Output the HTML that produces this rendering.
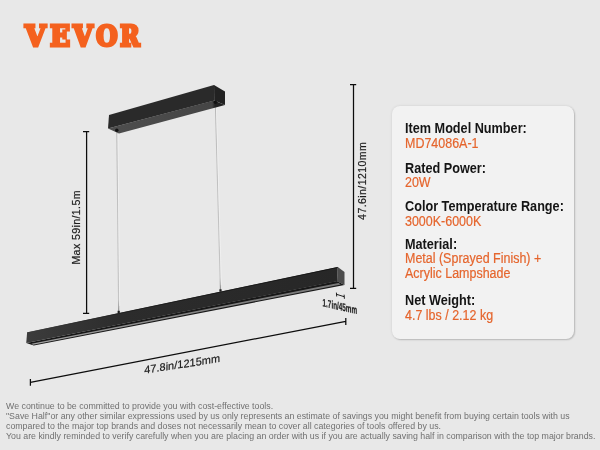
<!DOCTYPE html>
<html><head><meta charset="utf-8">
<style>
html,body{margin:0;padding:0;}
body{width:600px;height:450px;background:#e8e8e8;position:relative;overflow:hidden;font-family:"Liberation Sans",sans-serif;}
#logo{position:absolute;left:0;top:0;font-family:"DejaVu Serif",serif;font-weight:bold;font-size:28.5px;line-height:36px;color:#f4611e;-webkit-text-stroke:3.0px #f4611e;white-space:nowrap;}
#logo span{position:absolute;top:18.2px;transform-origin:0 0;display:block;}
#panel{position:absolute;left:392px;top:106px;width:182px;height:232.5px;border-radius:8px;background:#f2f2f2;box-shadow:0 0 3px rgba(0,0,0,0.10), 1px 1px 1.5px rgba(0,0,0,0.17);}
.t{position:absolute;left:405px;white-space:nowrap;line-height:16px;transform-origin:0 0;}
.h{font-weight:bold;color:#151515;font-size:14px;transform:scaleX(0.905);}
.v{color:#e5652d;font-size:14px;transform:scaleX(0.891);-webkit-text-stroke:0.2px #e5652d;}
.f{position:absolute;left:6px;white-space:nowrap;font-size:8.81px;line-height:10px;color:#707070;transform-origin:0 0;}
svg{position:absolute;left:0;top:0;}
svg text{font-family:"Liberation Sans",sans-serif;fill:#1c1c1c;stroke:#1c1c1c;stroke-width:0.2px;}
</style></head><body>
<div id="logo"><span style="left:25.4px;transform:scaleX(0.942)">V</span><span style="left:49.7px;transform:scaleX(0.925)">E</span><span style="left:73.0px;transform:scaleX(0.899)">V</span><span style="left:96.3px;transform:scaleX(0.870)">O</span><span style="left:120.0px;transform:scaleX(0.834)">R</span></div>
<svg width="600" height="450" viewBox="0 0 600 450">
  <!-- wires -->
  <linearGradient id="w1" x1="0" y1="132" x2="0" y2="312" gradientUnits="userSpaceOnUse"><stop offset="0" stop-color="#b6b6b6"/><stop offset="0.3" stop-color="#c0c0c0"/><stop offset="0.93" stop-color="#c4c4c4"/><stop offset="1" stop-color="#8a8a8a"/></linearGradient>
  <linearGradient id="w2" x1="0" y1="103" x2="0" y2="291" gradientUnits="userSpaceOnUse"><stop offset="0" stop-color="#b6b6b6"/><stop offset="0.3" stop-color="#c0c0c0"/><stop offset="0.93" stop-color="#c4c4c4"/><stop offset="1" stop-color="#8a8a8a"/></linearGradient>
  <line x1="116.9" y1="132" x2="118.7" y2="312" stroke="url(#w1)" stroke-width="1.2"/><line x1="117.9" y1="134" x2="119.7" y2="306" stroke="#f1f1f1" stroke-width="0.8"/>
  <line x1="215.4" y1="103" x2="220.5" y2="291" stroke="url(#w2)" stroke-width="1.2"/><line x1="216.4" y1="108" x2="221.4" y2="285" stroke="#f1f1f1" stroke-width="0.8"/>
  <!-- ceiling box -->
  <linearGradient id="bg2" x1="108" y1="0" x2="225" y2="0" gradientUnits="userSpaceOnUse"><stop offset="0" stop-color="#4e4e4e"/><stop offset="0.89" stop-color="#454545"/><stop offset="0.915" stop-color="#222"/><stop offset="1" stop-color="#222"/></linearGradient>
  <polygon points="108,128.5 214,100.5 225,104.9 119,133.6" fill="url(#bg2)"/>
  <polygon points="109,115 214,85 214.5,100.5 108,128.5" fill="#2a2a2a"/>
  <polygon points="214,85 225,91.5 225,104.9 214.3,100.6" fill="#222"/>
  <circle cx="116.8" cy="130.3" r="1.7" fill="#111"/>
  <circle cx="215.4" cy="102.3" r="1.7" fill="#111"/>
  <!-- lamp bar -->
  <defs><linearGradient id="fg" x1="27" y1="0" x2="338" y2="0" gradientUnits="userSpaceOnUse"><stop offset="0" stop-color="#3c3c3c"/><stop offset="0.3" stop-color="#2c2c2c"/><stop offset="1" stop-color="#272727"/></linearGradient></defs>
  <polygon points="26.25,342.9 337,280.9 344.5,284.9 33.75,345.6" fill="#181818"/>
  <linearGradient id="sg" x1="30" y1="0" x2="340" y2="0" gradientUnits="userSpaceOnUse"><stop offset="0" stop-color="#a2a2a2"/><stop offset="0.5" stop-color="#858585"/><stop offset="1" stop-color="#787878"/></linearGradient>
  <polygon points="31.5,343.75 338.5,282.9 340.8,284.4 33,344.85" fill="url(#sg)"/>
  <polygon points="27.1,332.5 337.8,267.1 337.2,281.2 26.25,342.9" fill="url(#fg)"/>
  <linearGradient id="tg" x1="27" y1="0" x2="338" y2="0" gradientUnits="userSpaceOnUse"><stop offset="0" stop-color="#3a3a3a"/><stop offset="0.35" stop-color="#1a1a1a"/><stop offset="1" stop-color="#111"/></linearGradient>
  <line x1="27.1" y1="332.8" x2="337.8" y2="267.4" stroke="url(#tg)" stroke-width="0.9"/>
  <polygon points="337.8,267.1 344.5,272 344.5,284.9 337,281.2" fill="#4c4c4c"/>
  <rect x="117.6" y="310.8" width="2.2" height="2.4" fill="#1c1c1c"/>
  <rect x="219.4" y="289.3" width="2.2" height="2.4" fill="#1c1c1c"/>
  <!-- dims -->
  <g stroke="#0c0c0c" stroke-width="1.25" fill="none">
    <path d="M86.6 131.5V313.4M83 131.5H89.2M83 313.4H89.2"/>
    <path d="M353.5 84.5V288.4M350 84.5H356.2M350 288.4H356.2"/>
    <path d="M30.4 382.4L345.8 321.3M30.4 379V385.8M345.8 318V324.9"/>
    <path d="M336.5 294.3L344.2 296.7M336.4 292.6L336.7 296.5M344.1 294.7L344.4 298.8" stroke-width="0.9"/>
  </g>
  <text transform="translate(79.6 264.6) rotate(-90)" font-size="10.6" letter-spacing="0.39">Max 59in/1.5m</text>
  <text transform="translate(365.6 219.9) rotate(-90)" font-size="10.6" letter-spacing="0.39">47.6in/1210mm</text>
  <text transform="translate(144.2 373.7) skewY(-8.8)" font-size="10.9" letter-spacing="0.06">47.8in/1215mm</text>
  <text transform="translate(322.6 306.3) skewY(12.8) scale(0.575 1)" font-size="11" font-weight="bold">1.7in/45mm</text>
</svg>
<div id="panel"></div>
<div class="t h" style="top:119.95px">Item Model Number:</div>
<div class="t v" style="top:135.15px">MD74086A-1</div>
<div class="t h" style="top:159.65px">Rated Power:</div>
<div class="t v" style="top:173.95px">20W</div>
<div class="t h" style="top:197.95px">Color Temperature Range:</div>
<div class="t v" style="top:213.05px">3000K-6000K</div>
<div class="t h" style="top:235.65px">Material:</div>
<div class="t v" style="top:249.95px">Metal (Sprayed Finish) +</div>
<div class="t v" style="top:264.95px">Acrylic Lampshade</div>
<div class="t h" style="top:291.65px">Net Weight:</div>
<div class="t v" style="top:306.85px">4.7 lbs / 2.12 kg</div>
<div class="f" id="f1" style="top:400.7px">We continue to be committed to provide you with cost-effective tools.</div>
<div class="f" id="f2" style="top:410.7px">"Save Half"or any other similar expressions used by us only represents an estimate of savings you might benefit from buying certain tools with us</div>
<div class="f" id="f3" style="top:420.6px">compared to the major top brands and doses not necessarily mean to cover all categories of tools offered by us.</div>
<div class="f" id="f4" style="top:430.6px">You are kindly reminded to verify carefully when you are placing an order with us if you are actually saving half in comparison with the top major brands.</div>
</body></html>
